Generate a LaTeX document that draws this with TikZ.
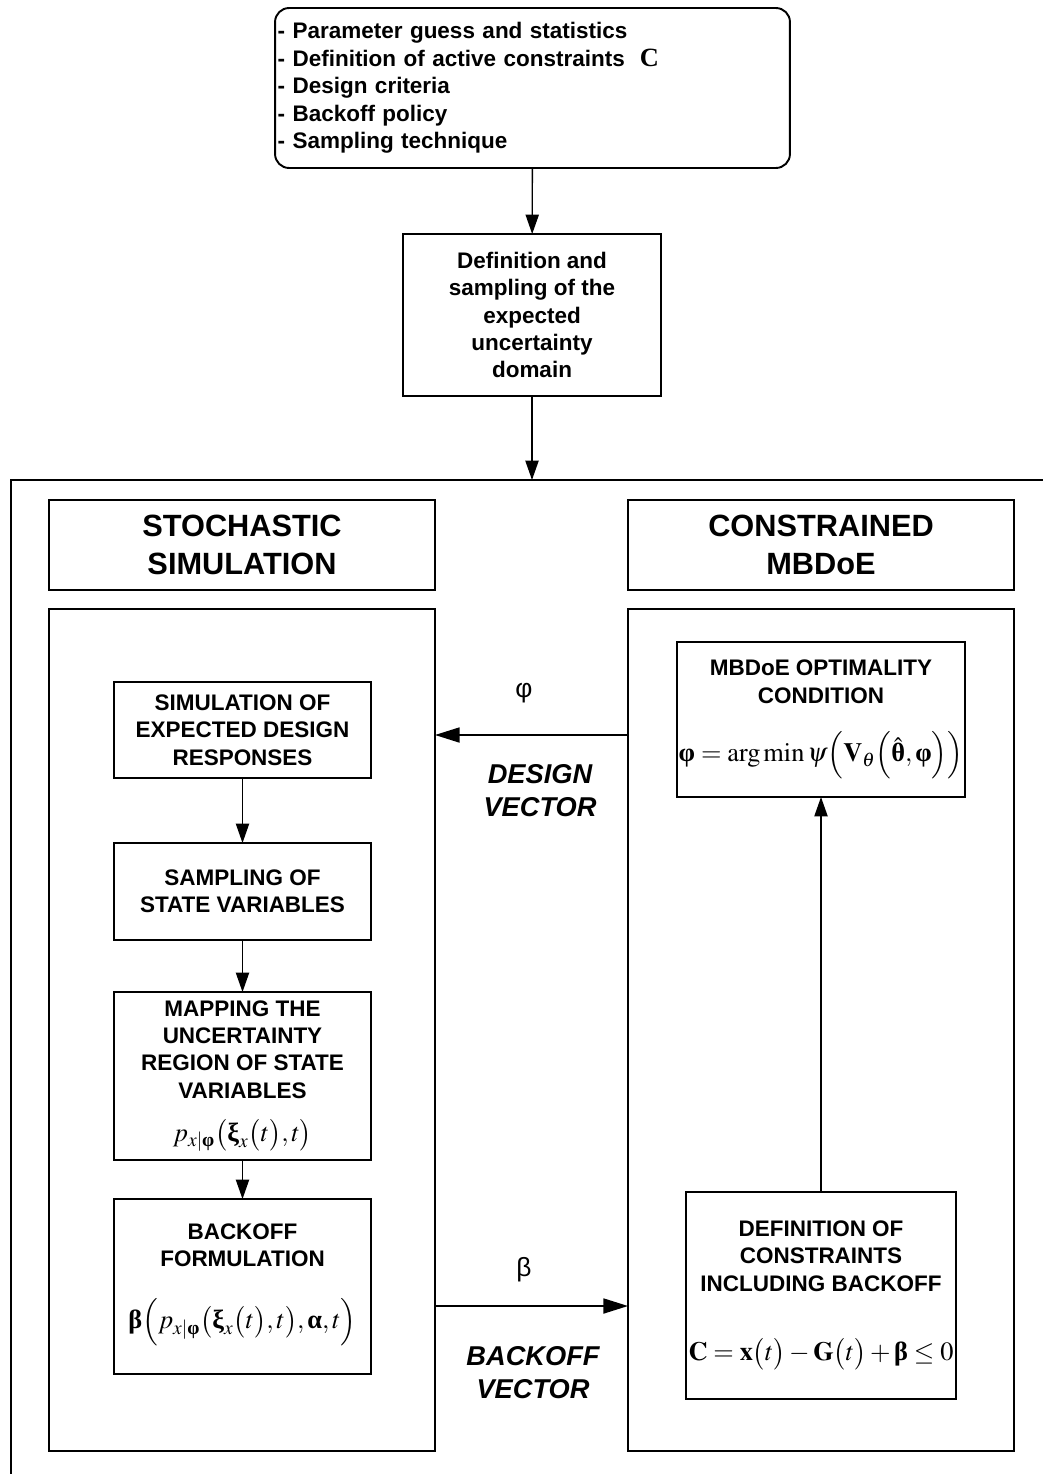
\documentclass[tikz,border=0pt]{standalone}
\usepackage{amsmath}
\usepackage{mathptmx}
\usepackage[no-math]{fontspec}
\setmainfont{Liberation Sans}
\newfontfamily\grk{Liberation Serif}
\usetikzlibrary{arrows.meta,positioning}
% bold upright greek, serif
\newcommand{\bgr}[1]{\text{\grk\bfseries #1}}

\begin{document}
\begin{tikzpicture}[x=0.02cm,y=-0.02cm,
	stepbox/.style={draw,line width=0.9pt,inner sep=1pt,outer sep=0pt,align=center,font=\fontsize{12.8}{15.6}\selectfont\bfseries},
	headbox/.style={draw,line width=1.1pt,inner sep=0pt,outer sep=0pt,align=center,minimum width=7.72cm,minimum height=1.8cm,font=\fontsize{17.5}{21.5}\selectfont\bfseries},
	panel/.style={draw,line width=1.1pt,inner sep=0pt,outer sep=0pt,minimum width=7.72cm,minimum height=16.84cm},
	veclabel/.style={align=center,font=\fontsize{15.5}{18.7}\selectfont\bfseries\itshape},
	varr/.style={-{Triangle[length=11pt,width=7.5pt]},line width=0.8pt},
	harr/.style={-{Triangle[length=14pt,width=8.5pt]},line width=1.1pt}]
	\useasboundingbox (0,0) rectangle (1043,1474);
	
	% Inputs
	\node[stepbox,rounded corners=8pt,line width=1.1pt,minimum height=3.2cm,text width=10.2cm,inner xsep=0.05cm,align=left] (inputs) at (532.5,88)
		{- Parameter guess and statistics\\
		 - Definition of active constraints\ \ {\grk\fontsize{15}{15.6}\selectfont C}\\
		 - Design criteria\\
		 - Backoff policy\\
		 - Sampling technique};
	\node[stepbox,minimum width=5.16cm,minimum height=3.24cm] (domain) at (532,315)
		{Definition and\\sampling of the\\expected\\uncertainty\\domain};
	\draw[varr] (inputs) -- (domain);
	
	% Outer frame
	\coordinate (ftop) at (532,480);
	\draw[line width=1.1pt] (11,1474) -- (11,480) -- (1043,480);
	\draw[varr] (domain) -- (domain.south |- ftop);
	
	% Headings and panels
	\node[headbox] (sshead) at (242,545) {STOCHASTIC\\SIMULATION};
	\node[headbox] (cmhead) at (821,545) {CONSTRAINED\\MBDoE};
	\node[panel] (sspanel) at (242,1030) {};
	\node[panel] (cmpanel) at (821,1030) {};
	
	% Stochastic simulation
	\node[stepbox,minimum width=5.14cm,minimum height=1.92cm] (simul) at (242.5,730)
		{SIMULATION OF\\EXPECTED DESIGN\\RESPONSES};
	\node[stepbox,minimum width=5.14cm,minimum height=1.94cm] (sampl) at (242.5,891.5)
		{SAMPLING OF\\STATE VARIABLES};
	\node[stepbox,minimum width=5.14cm,minimum height=3.36cm] (mapping) at (242.5,1076)
		{MAPPING THE\\UNCERTAINTY\\REGION OF STATE\\VARIABLES\\[9pt]
		 {\fontsize{15}{18}\selectfont $p_{x|\bgr{φ}}\bigl(\bgr{ξ}_x\bigl(t\bigr),t\bigr)$}};
	\node[stepbox,minimum width=5.14cm,minimum height=3.5cm] (backoff) at (242.5,1286.5)
		{BACKOFF\\FORMULATION\\[17pt]
		 {\fontsize{15}{18}\selectfont $\bgr{β}\Bigl(p_{x|\bgr{φ}}\bigl(\bgr{ξ}_x\bigl(t\bigr),t\bigr),\bgr{α},t\Bigr)$}\\[-4pt]};
	\draw[varr] (simul) -- (sampl);
	\draw[varr] (sampl) -- (mapping);
	\draw[varr] (mapping) -- (backoff);
	
	% Constrained MBDoE
	\node[stepbox,minimum width=5.66cm,minimum height=3.1cm] (optim) at (821,719.5)
		{MBDoE OPTIMALITY\\CONDITION\\[15pt]
		 {\fontsize{15}{18}\selectfont $\bgr{φ}=\arg\min\psi\Bigl(\mathbf{V}_{\theta}\Bigl(\hat{\bgr{θ}},\bgr{φ}\Bigr)\Bigr)$}};
	\node[stepbox,minimum width=5.4cm,minimum height=4.14cm] (constr) at (821,1295.5)
		{DEFINITION OF\\CONSTRAINTS\\INCLUDING BACKOFF\\[24pt]
		 {\fontsize{15}{18}\selectfont $\mathbf{C}=\mathbf{x}\bigl(t\bigr)-\mathbf{G}\bigl(t\bigr)+\bgr{β}\le 0$}};
	\draw[varr] (constr) -- (optim);
	
	% Exchanged vectors
	\coordinate (phiy) at (0,735);
	\coordinate (betay) at (0,1306);
	\draw[harr] (cmpanel.west |- phiy) -- (sspanel.east |- phiy);
	\draw[harr] (sspanel.east |- betay) -- (cmpanel.west |- betay);
	\node[font=\fontsize{15}{18}\selectfont] (philab) at (524,693) {φ};
	\node[veclabel] (desvec) at (540,791) {DESIGN\\VECTOR};
	\node[font=\fontsize{15}{18}\selectfont] (betalab) at (524,1270) {β};
	\node[veclabel] (bovec) at (533,1373) {BACKOFF\\VECTOR};
\end{tikzpicture}
\end{document}
